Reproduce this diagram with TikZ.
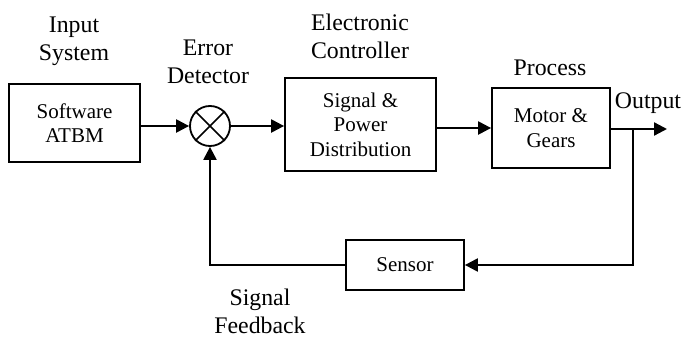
\documentclass[tikz,border=0pt]{standalone}
\usepackage{fontspec}
\setmainfont{Liberation Serif}
\usetikzlibrary{arrows.meta}
\begin{document}
\begin{tikzpicture}[x=1pt,y=-1pt,
  blk/.style={draw,line width=1.8pt,align=center,inner sep=0pt,font=\fontsize{21}{24.5}\selectfont},
  lbl/.style={align=center,inner sep=0pt,font=\fontsize{23.8}{28}\selectfont},
  conn/.style={line width=2.3pt},
  arr/.style={conn,-{Triangle[length=13pt,width=13pt]}}]
\useasboundingbox (0,0) rectangle (683,340);
\node[blk,minimum width=131pt,minimum height=78pt] (soft) at (74.5,123) {Software\\ATBM};
\node[draw,circle,line width=1.8pt,minimum size=40pt,inner sep=0pt] (circ) at (210,126) {};
\draw[line width=1.6pt] (circ.north east) -- (circ.south west) (circ.north west) -- (circ.south east);
\node[blk,minimum width=151pt,minimum height=93pt] (ctrl) at (360.5,124.5) {Signal \&\\Power\\Distribution};
\node[blk,minimum width=118pt,minimum height=80pt] (proc) at (551,128) {Motor \&\\Gears};
\node[blk,minimum width=118pt,minimum height=50pt] (sens) at (405,265) {Sensor};
\coordinate (out) at (667,129);
\coordinate (br) at (633,129);
\coordinate (bl) at (210,265);
\coordinate (brd) at (633,265);
\node[lbl] (l1) at (74,41) {Input\\System};
\node[lbl] (l2) at (208,62) {Error\\Detector};
\node[lbl] (l3) at (360,36) {Electronic\\Controller};
\node[lbl] (l4) at (550,68) {Process};
\node[lbl] (l5) at (648,103) {Output};
\node[lbl] (l6) at (260,311) {Signal\\Feedback};
\draw[arr] (soft.east |- circ.west) -- (circ.west);
\draw[arr] (circ.east) -- (ctrl.west |- circ.east);
\draw[arr] (ctrl.east |- proc.west) -- (proc.west);
\draw[arr] (proc.east |- out) -- (out);
\draw[arr] (br) -- (brd) -- (sens.east);
\draw[arr] (sens.west) -- (bl) -- (circ.south);
\end{tikzpicture}
\end{document}
